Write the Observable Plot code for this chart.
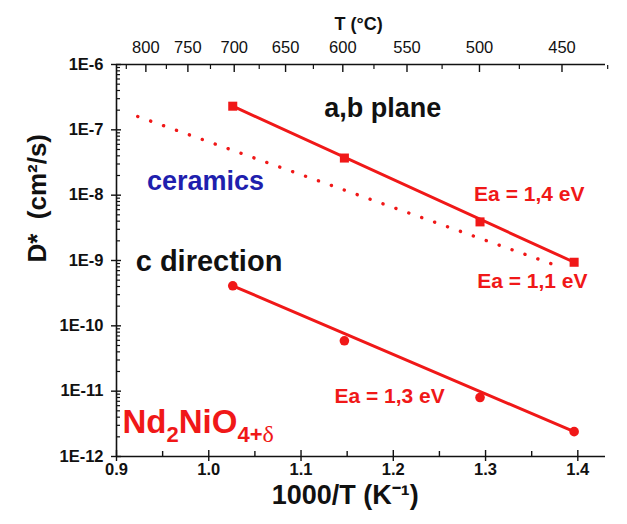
<!DOCTYPE html>
<html>
<head>
<meta charset="utf-8">
<script src="https://cdn.jsdelivr.net/npm/d3@7"></script>
<script src="https://cdn.jsdelivr.net/npm/@observablehq/plot@0.6"></script>
<style>
  body { margin: 0; background: #fff; }
  #chart svg text { font-family: "Liberation Sans", Arial, sans-serif; }
</style>
</head>
<body>
<div id="chart"></div>
<script>
// Inverse temperature 1000/T (K^-1) of each anneal
const invT = [1.026, 1.147, 1.294, 1.396];
// Oxygen tracer diffusion D* (cm²/s) in the a,b plane
const dAB = [2.3e-7, 3.7e-8, 3.9e-9, 9.4e-10];
// Oxygen tracer diffusion D* (cm²/s) along the c direction
const dC = [4.1e-10, 5.9e-11, 8.0e-12, 2.4e-12];
// Arrhenius line reported for ceramics (end points)
const ceramicsInvT = [0.923, 1.384];
const ceramicsD = [1.6e-7, 7.7e-10];

// Axis ticks
const xTicks = [0.9, 1.0, 1.1, 1.2, 1.3, 1.4];
const xTickLabels = ["0.9", "1.0", "1.1", "1.2", "1.3", "1.4"];
const xMinor = [0.95, 1.05, 1.15, 1.25, 1.35];
const yTicks = [1e-12, 1e-11, 1e-10, 1e-9, 1e-8, 1e-7, 1e-6];
const yTickLabels = ["1E-12", "1E-11", "1E-10", "1E-9", "1E-8", "1E-7", "1E-6"];
const tempTicks = [800, 750, 700, 650, 600, 550, 500, 450];
const tempMinor = [825, 775, 725, 675, 625, 575, 525, 475, 425];

// Annotations, anchored in data units (1000/T, D*)
const notes = [
  {text: "a,b plane", x: 1.1885, y: 2.1e-7},
  {text: "ceramics", x: 0.9965, y: 1.62e-8},
  {text: "c direction", x: 1.0003, y: 9.6e-10},
  {text: "Ea = 1,4 eV", x: 1.3474, y: 1.02e-8},
  {text: "Ea = 1,1 eV", x: 1.3507, y: 4.76e-10},
  {text: "Ea = 1,3 eV", x: 1.196, y: 8.3e-12}
];
const formula = {text: "Nd2NiO4+δ", x: 0.9065, y: 3.3e-12};

const red = "#f01818";
const blue = "#1f1fae";
const ink = "#111";

const toInv = (c) => 1000 / (c + 273.15);
const yMinor = yTicks.slice(0, -1).flatMap((t) => [2, 3, 4, 5, 6, 7, 8, 9].map((k) => k * t));

const ab = invT.map((x, i) => ({x, y: dAB[i]}));
const cd = invT.map((x, i) => ({x, y: dC[i]}));
const ceramics = ceramicsInvT.map((x, i) => ({x, y: ceramicsD[i]}));
const ends = (arr) => [arr[0], arr[arr.length - 1]];

const noteStyle = {
  "a,b plane": {fill: ink, fontSize: 27},
  "ceramics": {fill: blue, fontSize: 27},
  "c direction": {fill: ink, fontSize: 29},
  "Ea = 1,4 eV": {fill: red, fontSize: 21},
  "Ea = 1,1 eV": {fill: red, fontSize: 21},
  "Ea = 1,3 eV": {fill: red, fontSize: 21}
};

const chart = Plot.plot({
  width: 627,
  height: 524,
  marginLeft: 116,
  marginRight: 22,
  marginTop: 64,
  marginBottom: 68,
  style: {background: "#fff", overflow: "visible"},
  x: {domain: [0.9, 1.43]},
  y: {type: "log", domain: [1e-12, 1e-6]},
  marks: [
    // axis lines (left, bottom, top)
    Plot.ruleX([0.9], {stroke: ink, strokeWidth: 1.6}),
    Plot.ruleY([1e-12, 1e-6], {stroke: ink, strokeWidth: 1.6}),

    // bottom axis
    Plot.axisX({anchor: "bottom", ticks: xTicks, tickSize: 11, dy: -6, fill: "none", stroke: ink, strokeWidth: 1.4, label: null}),
    Plot.axisX({anchor: "bottom", ticks: xMinor, tickSize: 5, dy: -5, fill: "none", stroke: ink, strokeWidth: 1.4, label: null}),
    Plot.axisX({anchor: "bottom", ticks: xTicks, tickSize: 0, tickPadding: 7, label: null,
      tickFormat: (d) => xTickLabels[xTicks.indexOf(d)], fontSize: 16.5, fontWeight: "bold", fill: ink}),

    // left axis
    Plot.axisY({anchor: "left", ticks: yTicks, tickSize: 10, dx: 5, fill: "none", stroke: ink, strokeWidth: 1.4, label: null}),
    Plot.axisY({anchor: "left", ticks: yMinor, tickSize: 4, dx: 4, fill: "none", stroke: ink, strokeWidth: 1.2, label: null}),
    Plot.axisY({anchor: "left", ticks: yTicks, tickSize: 0, tickPadding: 13, label: null,
      tickFormat: (d) => yTickLabels[yTicks.indexOf(d)], fontSize: 16.5, fontWeight: "bold", fill: ink}),

    // top axis in degrees Celsius
    Plot.axisX({anchor: "top", ticks: tempTicks.map(toInv), tickSize: 7, dy: 7, fill: "none", stroke: ink, strokeWidth: 1.4, label: null}),
    Plot.axisX({anchor: "top", ticks: tempMinor.map(toInv), tickSize: 4, dy: 4, fill: "none", stroke: ink, strokeWidth: 1.2, label: null}),
    Plot.axisX({anchor: "top", ticks: tempTicks.map(toInv), tickSize: 0, tickPadding: 12, label: null,
      tickFormat: (d) => String(tempTicks[tempTicks.map(toInv).indexOf(d)]), fontSize: 16.5, fill: ink}),

    // axis titles
    Plot.text(["T (°C)"], {x: 1.1625, frameAnchor: "top", dy: -47, fontSize: 18, fontWeight: "bold", fill: ink}),
    Plot.text(["1000/T (K⁻¹)"], {x: 1.148, frameAnchor: "bottom", dy: 47, fontSize: 27, fontWeight: "bold", fill: ink}),
    Plot.text(["D*  (cm²/s)"], {y: 9.3e-10, frameAnchor: "left", dx: -79, rotate: -90, fontSize: 26, fontWeight: "bold", fill: ink}),

    // ceramics Arrhenius line (dotted)
    Plot.line(ceramics, {x: "x", y: "y", stroke: red, strokeWidth: 3.4, strokeDasharray: "0.1 13.6", strokeLinecap: "round"}),

    // fitted lines through the measurements
    Plot.line(ends(ab), {x: "x", y: "y", stroke: red, strokeWidth: 3}),
    Plot.line(ends(cd), {x: "x", y: "y", stroke: red, strokeWidth: 3}),

    // measurements
    Plot.dot(ab, {x: "x", y: "y", symbol: "square", r: 5.1, fill: red}),
    Plot.dot(cd, {x: "x", y: "y", symbol: "circle", r: 4.8, fill: red}),

    // annotations
    Plot.text(notes, {x: "x", y: "y", text: "text", fontWeight: "bold", fontSize: 21, fill: ink}),
    Plot.text([formula], {x: "x", y: "y", text: "text", textAnchor: "start", fontSize: 33, fontWeight: "bold", fill: red})
  ]
});

// Per-annotation colour and size
d3.select(chart).selectAll("text").each(function () {
  const s = noteStyle[this.textContent];
  if (s) {
    this.setAttribute("fill", s.fill);
    this.setAttribute("font-size", s.fontSize);
  }
});

// Chemical formula with subscripts
d3.select(chart).selectAll("text").filter(function () { return this.textContent === formula.text; })
  .each(function () {
    const t = d3.select(this);
    t.text(null);
    const parts = [["Nd", 0], ["2", 1], ["NiO", 0], ["4+", 1], ["δ", 1]];
    let sub = false;
    for (const [s, isSub] of parts) {
      const span = t.append("tspan").text(s);
      if (isSub && !sub) span.attr("dy", 9);
      if (!isSub && sub) span.attr("dy", -9);
      if (isSub) span.attr("font-size", 22);
      if (s === "δ") span.attr("font-family", "'Liberation Serif', serif").attr("font-weight", "normal").attr("font-size", 24);
      sub = !!isSub;
    }
  });

document.getElementById("chart").append(chart);
</script>
</body>
</html>
